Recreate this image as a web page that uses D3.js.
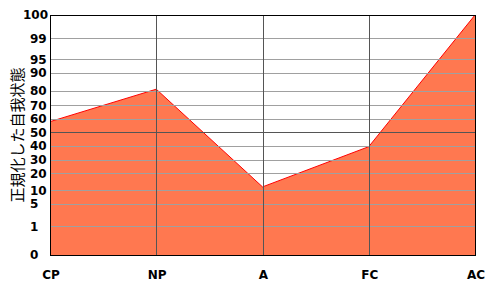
<!DOCTYPE html>
<html>
<head>
<meta charset="utf-8">
<script src="https://cdn.jsdelivr.net/npm/d3@7"></script>
<style>
  body { margin: 0; background: #fff; }
  text { font-family: "DejaVu Sans", sans-serif; }
</style>
</head>
<body>
<div id="chart"></div>
<script>
const categories = ["CP", "NP", "A", "FC", "AC"]
const values = [58, 81, 12, 39.5, 100]
const yTicks = [0, 1, 5, 10, 20, 30, 40, 50, 60, 70, 80, 90, 95, 99, 100]
// pixel position of each tick on the (non-linear) percent scale
const yTickPos = [255, 226.3, 204, 190.3, 173.3, 159.7, 146, 132.3, 119, 105.3, 91, 73, 59.3, 38.3, 15]

const W = 500, H = 300
const M = {LEFT: 50, RIGHT: 25, TOP: 15, BOTTOM: 45}

const svg = d3.select("#chart").append("svg")
    .attr("width", W)
    .attr("height", H)

const x = d3.scalePoint()
    .domain(categories)
    .range([M.LEFT, W - M.RIGHT])

const y = d3.scaleLinear()
    .domain(yTicks)
    .range(yTickPos)

const data = categories.map((c, i) => ({cat: c, v: values[i]}))

// filled area
const area = d3.area()
    .x(d => x(d.cat))
    .y0(y(0))
    .y1(d => y(d.v))

svg.append("path")
    .datum(data)
    .attr("fill", "#ff7850")
    .attr("d", area)

const line = d3.line()
    .x(d => x(d.cat))
    .y(d => y(d.v))

svg.append("path")
    .datum(data)
    .attr("fill", "none")
    .attr("stroke", "#ff0000")
    .attr("stroke-width", 1)
    .attr("d", line)

// horizontal grid
svg.append("g").selectAll("line")
    .data(yTicks.filter(t => t != 0 && t != 100))
    .enter().append("line")
    .attr("x1", M.LEFT)
    .attr("x2", W - M.RIGHT)
    .attr("y1", d => Math.round(y(d)) + 0.5)
    .attr("y2", d => Math.round(y(d)) + 0.5)
    .attr("stroke", d => d == 50 ? "#555" : "#a0a0a0")
    .attr("stroke-width", 1)

// vertical grid
svg.append("g").selectAll("line")
    .data(categories.slice(1, -1))
    .enter().append("line")
    .attr("x1", d => Math.round(x(d)) + 0.5)
    .attr("x2", d => Math.round(x(d)) + 0.5)
    .attr("y1", M.TOP)
    .attr("y2", H - M.BOTTOM)
    .attr("stroke", "#555")
    .attr("stroke-width", 1)

// frame
svg.append("rect")
    .attr("x", M.LEFT + 0.5)
    .attr("y", M.TOP + 0.5)
    .attr("width", W - M.LEFT - M.RIGHT)
    .attr("height", H - M.TOP - M.BOTTOM)
    .attr("fill", "none")
    .attr("stroke", "#000")

// y tick labels
svg.append("g").selectAll("text")
    .data(yTicks)
    .enter().append("text")
    .attr("x", d => String(d).length > 2 ? 23 : 30)
    .attr("y", d => y(d))
    .attr("dy", "0.35em")
    .attr("font-size", 12)
    .attr("font-weight", "bold")
    .text(d => d)

// x labels
svg.append("g").selectAll("text")
    .data(categories)
    .enter().append("text")
    .attr("x", d => x(d) + 1)
    .attr("y", 279)
    .attr("text-anchor", "middle")
    .attr("font-size", 12)
    .attr("font-weight", "bold")
    .text(d => d)

svg.append("text")
    .attr("transform", "translate(23," + 135 + ") rotate(-90)")
    .attr("text-anchor", "middle")
    .attr("font-size", 15)
    .style("font-family", "'Noto Sans CJK JP', sans-serif")
    .text("正規化した自我状態")
</script>
</body>
</html>
